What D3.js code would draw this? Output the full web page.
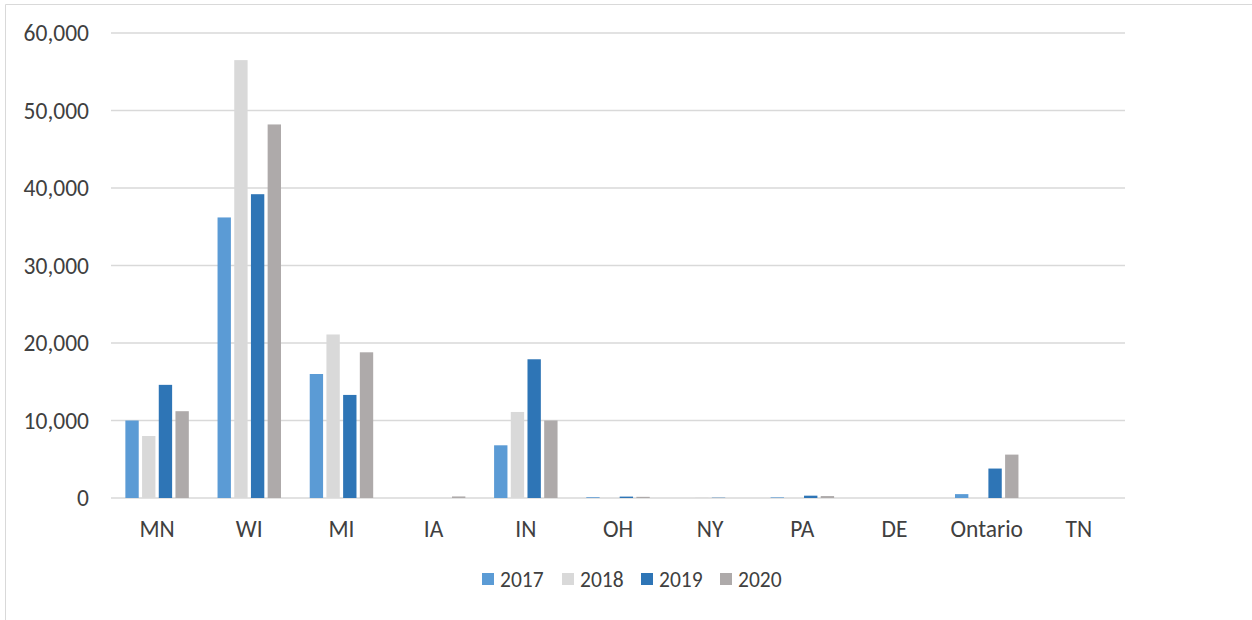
<!DOCTYPE html>
<html>
<head>
<meta charset="utf-8">
<script src="https://cdn.jsdelivr.net/npm/d3@7"></script>
<style>
  body { margin: 0; background: #fff; }
  text { font-family: Carlito, "Open Sans", "Liberation Sans", sans-serif; fill: #404040; }
</style>
</head>
<body>
<script>
// data
const states = ['MN', 'WI', 'MI', 'IA', 'IN', 'OH', 'NY', 'PA', 'DE', 'Ontario', 'TN']
const years = ['2017', '2018', '2019', '2020']
const v2017 = [10000, 36200, 16000, 0, 6800, 100, 0, 80, 0, 500, 0]
const v2018 = [8000, 56500, 21100, 0, 11100, 0, 50, 0, 0, 0, 0]
const v2019 = [14600, 39200, 13300, 0, 17900, 180, 40, 300, 0, 3800, 0]
const v2020 = [11200, 48200, 18800, 200, 10000, 150, 0, 250, 0, 5600, 0]
const yTicks = [0, 10000, 20000, 30000, 40000, 50000, 60000]
const colors = ['#5B9BD5', '#D9D9D9', '#2E75B6', '#AEAAAA']

const series = [v2017, v2018, v2019, v2020]

const W = 1252, H = 620
const plotLeft = 111, plotRight = 1125, plotTop = 33, plotBottom = 498

const svg = d3.select('body').append('svg')
  .attr('width', W).attr('height', H)

// outer frame (top and left edges only are visible)
svg.append('line').attr('x1', 5.5).attr('y1', 4.5).attr('x2', W).attr('y2', 4.5)
  .attr('stroke', '#d9d9d9').attr('stroke-width', 1)
svg.append('line').attr('x1', 5.5).attr('y1', 4.5).attr('x2', 5.5).attr('y2', H)
  .attr('stroke', '#d9d9d9').attr('stroke-width', 1)

const y = d3.scaleLinear().domain([0, 60000]).range([plotBottom, plotTop])
const x0 = d3.scaleBand().domain(states).range([plotLeft, plotRight])
const x1 = d3.scaleBand().domain(years).range([0, x0.bandwidth()])
  .paddingInner(0.2).paddingOuter(0.86)

// gridlines
svg.append('g').selectAll('line').data(yTicks).join('line')
  .attr('x1', plotLeft).attr('x2', plotRight)
  .attr('y1', d => y(d)).attr('y2', d => y(d))
  .attr('stroke', '#d9d9d9').attr('stroke-width', 1.5)

// y axis labels
const fmt = d3.format(',')
svg.append('g').selectAll('text').data(yTicks).join('text')
  .attr('x', 89).attr('y', d => y(d))
  .attr('dy', '0.35em')
  .attr('text-anchor', 'end')
  .style('font-size', '23.5px')
  .text(d => fmt(d))

// bars
const groups = svg.append('g').selectAll('g').data(states).join('g')
  .attr('transform', d => `translate(${x0(d)},0)`)

groups.selectAll('rect')
  .data((s, i) => years.map((yr, j) => ({ yr, j, v: series[j][i] })))
  .join('rect')
  .attr('x', d => x1(d.yr))
  .attr('width', x1.bandwidth())
  .attr('y', d => y(d.v))
  .attr('height', d => y(0) - y(d.v))
  .attr('fill', d => colors[d.j])

// x axis labels
svg.append('g').selectAll('text').data(states).join('text')
  .attr('x', d => x0(d) + x0.bandwidth() / 2)
  .attr('y', 537)
  .attr('text-anchor', 'middle')
  .style('font-size', '23.5px')
  .text(d => d)

// legend
const legendX = [482, 562, 641, 720]
const legend = svg.append('g').selectAll('g').data(years).join('g')
  .attr('transform', (d, i) => `translate(${legendX[i]},573)`)
legend.append('rect').attr('width', 12).attr('height', 12)
  .attr('fill', (d, i) => colors[i])
legend.append('text').attr('x', 18).attr('y', 6).attr('dy', '0.35em')
  .style('font-size', '21.5px')
  .text(d => d)
</script>
</body>
</html>
